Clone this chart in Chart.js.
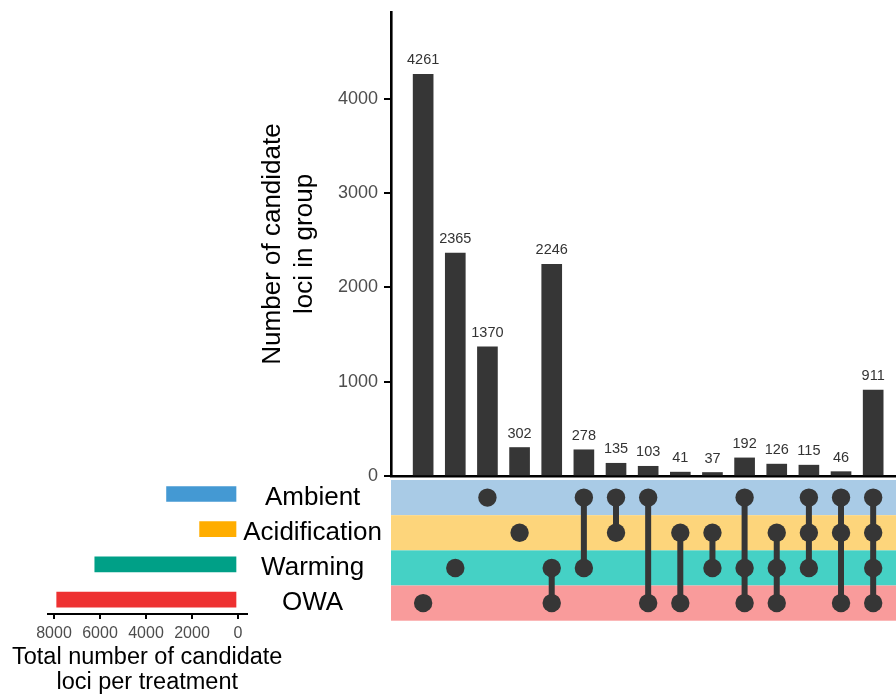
<!DOCTYPE html>
<html>
<head>
<meta charset="utf-8">
<script src="https://cdn.jsdelivr.net/npm/chart.js@4.4.0/dist/chart.umd.min.js"></script>
<style>
  html, body { margin: 0; padding: 0; background: #ffffff; }
  #wrap { position: relative; width: 896px; height: 694px; overflow: hidden; }
  #wrap canvas { position: absolute; left: 0; top: 0; }
</style>
</head>
<body>
<div id="wrap">
  <canvas id="sets" width="896" height="694"></canvas>
  <canvas id="matrix" width="896" height="694"></canvas>
  <canvas id="groups" width="896" height="694"></canvas>
</div>
<script>
// Treatments (matrix rows, top to bottom) and their total candidate loci
const setNames = ['Ambient', 'Acidification', 'Warming', 'OWA'];
const setTotals = [3150, 1713, 6270, 7926];
const setColors = ['#4499d3', '#ffad00', '#00a087', '#ee3131'];
const bandColors = ['#a9cbe6', '#fdd57b', '#45d1c5', '#f99b9b'];

// Intersection groups, left to right: size and member treatments (row indices)
const groupSizes = [4261, 2365, 1370, 302, 2246, 278, 135, 103, 41, 37, 192, 126, 115, 46, 911];
const groupMembers = [
  [3], [2], [0], [1], [2, 3], [0, 2], [0, 1], [0, 3],
  [1, 3], [1, 2], [0, 2, 3], [1, 2, 3], [0, 1, 2], [0, 1, 3], [0, 1, 2, 3]
];

// Axis tick values and titles
const groupTicks = [0, 1000, 2000, 3000, 4000];
const totalTicks = [0, 2000, 4000, 6000, 8000];
const groupTitle = ['Number of candidate', 'loci in group'];
const totalTitle = ['Total number of candidate', 'loci per treatment'];

const FONT = '"Liberation Sans", Arial, Helvetica, sans-serif';
const INK = '#363636';
const W = 896, H = 694;

Chart.defaults.font.family = FONT;
Chart.defaults.animation = false;

// shared column scale: group k sits at x = k + 1
const colMin = 0, colMax = 15.71;

const commonPlugins = { legend: { display: false }, tooltip: { enabled: false } };
const plainNumber = v => String(v);
const noEdgePadding = s => { s.paddingTop = 0; s.paddingBottom = 0; s.paddingLeft = 0; s.paddingRight = 0; };

// ---- intersection size bars ----
const valueLabels = {
  id: 'valueLabels',
  afterDatasetsDraw(chart) {
    const ctx = chart.ctx;
    const meta = chart.getDatasetMeta(0);
    ctx.save();
    ctx.font = '14.5px ' + FONT;
    ctx.fillStyle = '#333333';
    ctx.textAlign = 'center';
    ctx.textBaseline = 'alphabetic';
    meta.data.forEach((bar, i) => {
      ctx.fillText(String(groupSizes[i]), bar.x, bar.y - 10);
    });
    ctx.restore();
  }
};

new Chart(document.getElementById('groups'), {
  type: 'bar',
  data: {
    datasets: [{
      data: groupSizes.map((v, i) => ({ x: i + 1, y: v })),
      backgroundColor: INK,
      barThickness: 20
    }]
  },
  options: {
    responsive: false,
    animation: false,
    layout: { autoPadding: false, padding: { left: 0, right: 0, top: 12, bottom: H - 476 } },
    plugins: commonPlugins,
    scales: {
      x: {
        type: 'linear', min: colMin, max: colMax, offset: false,
        grid: { display: false, offset: false },
        border: { color: '#000000', width: 2.5 },
        ticks: { display: false },
        afterFit: s => { s.height = 0; noEdgePadding(s); }
      },
      y: {
        type: 'linear', min: 0, max: 4923,
        afterBuildTicks: s => { s.ticks = groupTicks.map(v => ({ value: v })); },
        afterFit: s => { s.width = 391; noEdgePadding(s); },
        grid: { drawOnChartArea: false, drawTicks: true, tickLength: 7, color: '#000000', lineWidth: 2 },
        border: { color: '#000000', width: 2.6 },
        ticks: { font: { size: 18 }, color: '#4d4d4d', padding: 6, callback: plainNumber },
        title: {
          display: true,
          text: groupTitle,
          font: { size: 26, lineHeight: 1.22 },
          color: '#000000',
          padding: { top: 257, bottom: 0 }
        }
      }
    }
  },
  plugins: [valueLabels]
});

// ---- membership matrix ----
const dotPoints = [];
groupMembers.forEach((m, c) => m.forEach(r => dotPoints.push({ x: c + 1, y: r })));
const linkPoints = [];
groupMembers.forEach((m, c) => {
  if (m.length > 1) {
    linkPoints.push({ x: c + 1, y: Math.min(...m) }, { x: c + 1, y: Math.max(...m) }, { x: c + 1, y: null });
  }
});

const rowBands = {
  id: 'rowBands',
  beforeDatasetsDraw(chart) {
    const { ctx, chartArea, scales: { y } } = chart;
    ctx.save();
    setNames.forEach((_, r) => {
      const top = y.getPixelForValue(r - 0.5);
      const bottom = y.getPixelForValue(r + 0.5);
      ctx.fillStyle = bandColors[r];
      ctx.fillRect(chartArea.left, top, chartArea.right - chartArea.left, bottom - top);
    });
    ctx.restore();
  }
};

new Chart(document.getElementById('matrix'), {
  type: 'scatter',
  data: {
    datasets: [
      {
        type: 'scatter',
        data: dotPoints,
        pointRadius: 9.2,
        pointBackgroundColor: INK,
        pointBorderWidth: 0
      },
      {
        type: 'line',
        data: linkPoints,
        borderColor: INK,
        borderWidth: 6,
        pointRadius: 0,
        spanGaps: false,
        fill: false
      }
    ]
  },
  options: {
    responsive: false,
    animation: false,
    layout: { autoPadding: false, padding: { left: 0, right: 0, top: 480, bottom: H - 620.7 } },
    plugins: commonPlugins,
    scales: {
      x: { type: 'linear', min: colMin, max: colMax, display: false },
      y: {
        type: 'linear', min: -0.5, max: 3.5, reverse: true,
        afterBuildTicks: s => { s.ticks = setNames.map((_, i) => ({ value: i })); },
        afterFit: s => { s.width = 391; noEdgePadding(s); },
        grid: { drawOnChartArea: false, drawTicks: false },
        border: { display: false },
        ticks: {
          font: { size: 26 }, color: '#000000', padding: 9, crossAlign: 'center',
          callback: v => setNames[v]
        }
      }
    }
  },
  plugins: [rowBands]
});

// ---- treatment totals (reversed horizontal bars) ----
// axis title is wider than the short axis, so it is set below the scale at full width
const totalAxisTitle = {
  id: 'totalAxisTitle',
  afterDraw(chart) {
    const { ctx, scales: { x } } = chart;
    const cx = (x.left + x.right) / 2;
    ctx.save();
    ctx.font = '23.5px ' + FONT;
    ctx.fillStyle = '#000000';
    ctx.textAlign = 'center';
    ctx.textBaseline = 'alphabetic';
    totalTitle.forEach((line, i) => ctx.fillText(line, cx, x.top + 50 + i * 25));
    ctx.restore();
  }
};

new Chart(document.getElementById('sets'), {
  type: 'bar',
  data: {
    datasets: [{
      data: setTotals.map((v, i) => ({ x: v, y: i })),
      backgroundColor: setColors,
      borderColor: 'rgba(255,255,255,0.35)',
      borderWidth: 1,
      borderSkipped: false,
      barThickness: 17
    }]
  },
  options: {
    indexAxis: 'y',
    responsive: false,
    animation: false,
    layout: { autoPadding: false, padding: { left: 47.7, right: W - 246.7, top: 476.4, bottom: 0 } },
    plugins: commonPlugins,
    scales: {
      y: {
        type: 'linear', min: -0.5, max: 3.41, reverse: true, offset: false, display: false,
        grid: { offset: false }
      },
      x: {
        type: 'linear', min: -378, max: 8274, reverse: true,
        afterBuildTicks: s => { s.ticks = totalTicks.map(v => ({ value: v })); },
        afterFit: s => { s.height = H - 614; noEdgePadding(s); },
        grid: { drawOnChartArea: false, drawTicks: true, tickLength: 5, color: '#000000', lineWidth: 2 },
        border: { color: '#000000', width: 2 },
        ticks: { font: { size: 16 }, color: '#4d4d4d', padding: 5, maxRotation: 0, callback: plainNumber }
      }
    }
  },
  plugins: [totalAxisTitle]
});
</script>
</body>
</html>
